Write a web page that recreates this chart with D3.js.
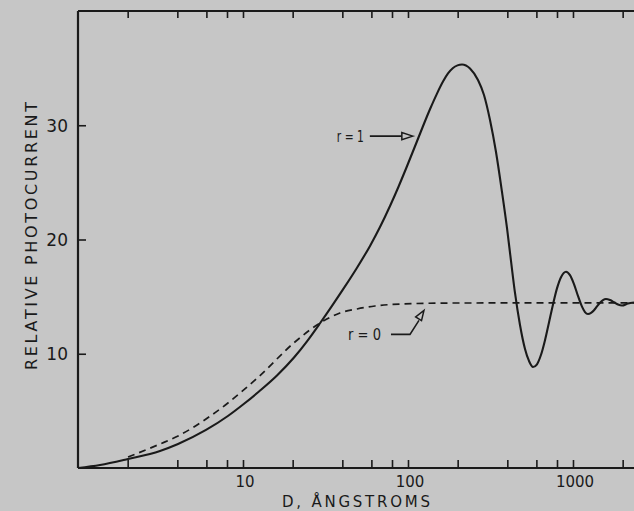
<!DOCTYPE html>
<html>
<head>
<meta charset="utf-8">
<script src="https://cdn.jsdelivr.net/npm/d3@7"></script>
<style>
  html, body { margin: 0; padding: 0; background: #c6c6c6; }
  svg { display: block; }
  text { font-family: "DejaVu Sans", sans-serif; fill: #1a1a1a; }
</style>
</head>
<body>
<script>
// ---- data ----
const r1D = [1, 1.36, 2.01, 3.14, 4.04, 5.97, 8.1, 10.1, 12.6, 16.07, 20.38, 24.43, 29.29, 34.63, 40.95, 49.09, 58.86, 67.67, 77.81, 87.6, 98.6, 113.4, 135.9, 149.9, 163.0, 174.8, 187.4, 199.5, 212.5, 237.6, 265.6, 288.8, 314.1, 341.5, 371.3, 398.1, 421.0, 445.2, 477.3, 511.9, 541.2, 572.4, 605.1, 640.0, 676.7, 715.4, 756.6, 799.8, 845.9, 907.1, 959.0, 1014, 1072, 1134, 1182, 1233, 1286, 1341, 1398, 1458, 1520, 1585, 1676, 1773, 1874, 1982, 2154, 2343];
const r1V = [0, 0.26, 0.79, 1.49, 2.10, 3.33, 4.55, 5.60, 6.74, 8.10, 9.67, 11.09, 12.67, 14.19, 15.76, 17.53, 19.44, 21.09, 22.93, 24.62, 26.41, 28.60, 31.40, 32.77, 33.82, 34.53, 35.01, 35.24, 35.32, 34.97, 33.96, 32.65, 30.46, 27.66, 24.16, 21.01, 18.12, 15.32, 12.52, 10.42, 9.37, 8.84, 9.08, 9.91, 11.19, 12.74, 14.32, 15.72, 16.70, 17.18, 16.88, 16.10, 15.06, 14.12, 13.65, 13.48, 13.57, 13.81, 14.14, 14.46, 14.70, 14.79, 14.70, 14.51, 14.31, 14.22, 14.40, 14.49];

const r0D = [2.01, 3.14, 4.04, 5.97, 8.1, 10.1, 12.6, 20.3, 29.3, 38.7, 49.1, 63.1, 89.5, 179.7, 1000, 2343];
const r0V = [0.96, 2.1, 2.8, 4.29, 5.69, 6.83, 8.05, 10.94, 12.69, 13.57, 13.92, 14.18, 14.35, 14.44, 14.45, 14.45];

const xTickValues = [2, 4, 6, 8, 10, 20, 40, 60, 80, 100, 200, 400, 600, 800, 1000, 2000];
const xTickLabels = [10, 100, 1000];
const yTickValues = [10, 20, 30];

const labelR1 = { text: "r = 1", tipD: 107, tipV: 29.05 };
const labelR0 = { text: "r = 0", tipD: 125, tipV: 13.8 };

// ---- layout ----
const W = 634, H = 511;
const ink = "#1a1a1a", paper = "#c6c6c6";
const svg = d3.select("body").append("svg").attr("width", W).attr("height", H);

const x = d3.scaleLog().domain([1, 2343]).range([78, 634]);
const y = d3.scaleLinear().domain([0, 40]).range([468, 11]);

// axes with inward ticks
const gB = svg.append("g").attr("transform", `translate(0,${y(0)})`)
  .call(d3.axisTop(x).tickValues(xTickValues).tickSize(8).tickFormat(""));
const gT = svg.append("g").attr("transform", `translate(0,${y(40)})`)
  .call(d3.axisBottom(x).tickValues(xTickValues).tickSize(7).tickFormat(""));
const gL = svg.append("g").attr("transform", `translate(${x(1)},0)`)
  .call(d3.axisRight(y).tickValues(yTickValues).tickSize(8).tickFormat(""));
[gB, gT, gL].forEach(g => {
  g.selectAll("path.domain").attr("stroke", ink).attr("stroke-width", 2.2);
  g.selectAll("line").attr("stroke", ink).attr("stroke-width", 1.6);
});
gB.select("path.domain").attr("d", `M${x(1)},0H${W}`);
gT.select("path.domain").attr("d", `M${x(1)},0H${W}`);
gL.select("path.domain").attr("d", `M0,${y(40)}V${y(0)}`);

// tick labels
svg.append("g").selectAll("text").data(xTickLabels).join("text")
  .attr("x", d => x(d) + 2).attr("y", 487)
  .attr("text-anchor", "middle").attr("font-size", 15)
  .text(d => d);
svg.append("g").selectAll("text").data(yTickValues).join("text")
  .attr("x", 68).attr("y", d => y(d) + 6.5)
  .attr("text-anchor", "end").attr("font-size", 17)
  .text(d => d);

// axis titles
svg.append("text").attr("x", 282).attr("y", 507)
  .attr("font-size", 15).attr("textLength", 148).attr("lengthAdjust", "spacing")
  .text("D, ÅNGSTROMS");
svg.append("text").attr("transform", "translate(37,370) rotate(-90)")
  .attr("font-size", 16).attr("textLength", 268).attr("lengthAdjust", "spacing")
  .text("RELATIVE PHOTOCURRENT");

// curves
const line = d3.line().x(d => x(d[0])).y(d => y(d[1])).curve(d3.curveMonotoneX);
const r0 = r0D.map((d, i) => [d, r0V[i]]);
const r1 = r1D.map((d, i) => [d, r1V[i]]);
svg.append("path").attr("d", line(r0)).attr("fill", "none")
  .attr("stroke", ink).attr("stroke-width", 1.7).attr("stroke-dasharray", "7,5");
svg.append("path").attr("d", line(r1)).attr("fill", "none")
  .attr("stroke", ink).attr("stroke-width", 2.1);

// annotation r = 1
{
  const tx = x(labelR1.tipD), ty = y(labelR1.tipV);
  svg.append("text").attr("x", tx - 76).attr("y", ty + 6).attr("font-size", 15)
    .attr("textLength", 27).attr("lengthAdjust", "spacingAndGlyphs").text(labelR1.text);
  svg.append("line").attr("x1", tx - 43).attr("x2", tx - 11).attr("y1", ty).attr("y2", ty)
    .attr("stroke", ink).attr("stroke-width", 1.6);
  svg.append("path").attr("d", `M${tx},${ty}L${tx - 11},${ty - 3.5}L${tx - 11},${ty + 3.5}Z`)
    .attr("fill", paper).attr("stroke", ink).attr("stroke-width", 1.5);
}
// annotation r = 0
{
  const tx = x(labelR0.tipD), ty = y(labelR0.tipV);
  svg.append("text").attr("x", tx - 76).attr("y", ty + 30).attr("font-size", 15)
    .attr("textLength", 33).attr("lengthAdjust", "spacingAndGlyphs").text(labelR0.text);
  svg.append("path").attr("d", `M${tx - 33},${ty + 24}H${tx - 14}L${tx - 5},${ty + 10}`)
    .attr("fill", "none").attr("stroke", ink).attr("stroke-width", 1.6);
  // open triangular head pointing up-right
  const ang = Math.atan2(-14, 9);
  const bx = tx - 10 * Math.cos(ang), by = ty - 10 * Math.sin(ang);
  const px = -Math.sin(ang) * 3.5, py = Math.cos(ang) * 3.5;
  svg.append("path").attr("d", `M${tx},${ty}L${bx + px},${by + py}L${bx - px},${by - py}Z`)
    .attr("fill", paper).attr("stroke", ink).attr("stroke-width", 1.5);
}
</script>
</body>
</html>
